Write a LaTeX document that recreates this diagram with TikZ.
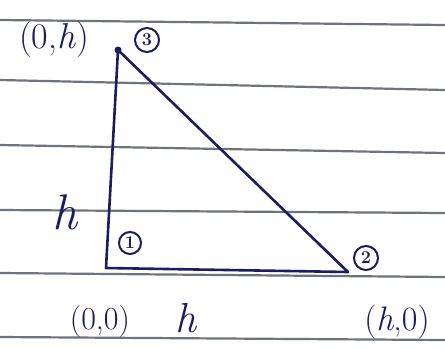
\documentclass[tikz,border=0pt]{standalone}
\usetikzlibrary{calc}
\definecolor{ink}{HTML}{1C1C5E}
\definecolor{rule}{HTML}{6E737C}
\begin{document}
\begin{tikzpicture}[x=1pt,y=-1pt,
  ruled/.style={draw=rule,line width=2.2pt},
  edge/.style={draw=ink,line width=2.6pt,line join=round,line cap=round},
  lbl/.style={text=ink,inner sep=0pt,font=\fontsize{36}{36}\selectfont},
  num/.style={draw=ink,line width=2pt,circle,inner sep=0pt,minimum size=24pt,text=ink,font=\fontsize{18}{18}\selectfont\bfseries}]
\fill[white] (0,0) rectangle (445,349);
\useasboundingbox (0,0) rectangle (445,349);
% ruled paper lines
\foreach \a/\b in {20/25,80/90,145/153,210/213,273/277,337/340}
  \draw[ruled] (0,\a) -- (445,\b);
% vertices
\coordinate (v1) at (106,268);
\coordinate (v2) at (348,272);
\coordinate (v3) at (118,50);
\draw[edge] (v3) -- (v1) -- (v2) -- cycle;
\fill[ink] (v3) circle (3.5pt);
% labels
\node[lbl] (p3) at (54,40) {(0,\textit{h})};
\node[num] (n3) at (147,40) {3};
\node[lbl,font=\fontsize{50}{50}\selectfont] (hv) at (66,212) {\textit{h}};
\node[num,minimum size=22pt] (n1) at (130,243) {1};
\node[lbl,font=\fontsize{32}{32}\selectfont] (p1) at (100,322) {(0,0)};
\node[lbl,font=\fontsize{42}{42}\selectfont] (hb) at (186,318) {\textit{h}};
\node[num] (n2) at (366,258) {2};
\node[lbl,font=\fontsize{34}{34}\selectfont] (p2) at (397,322) {(\textit{h},0)};
\end{tikzpicture}
\end{document}
